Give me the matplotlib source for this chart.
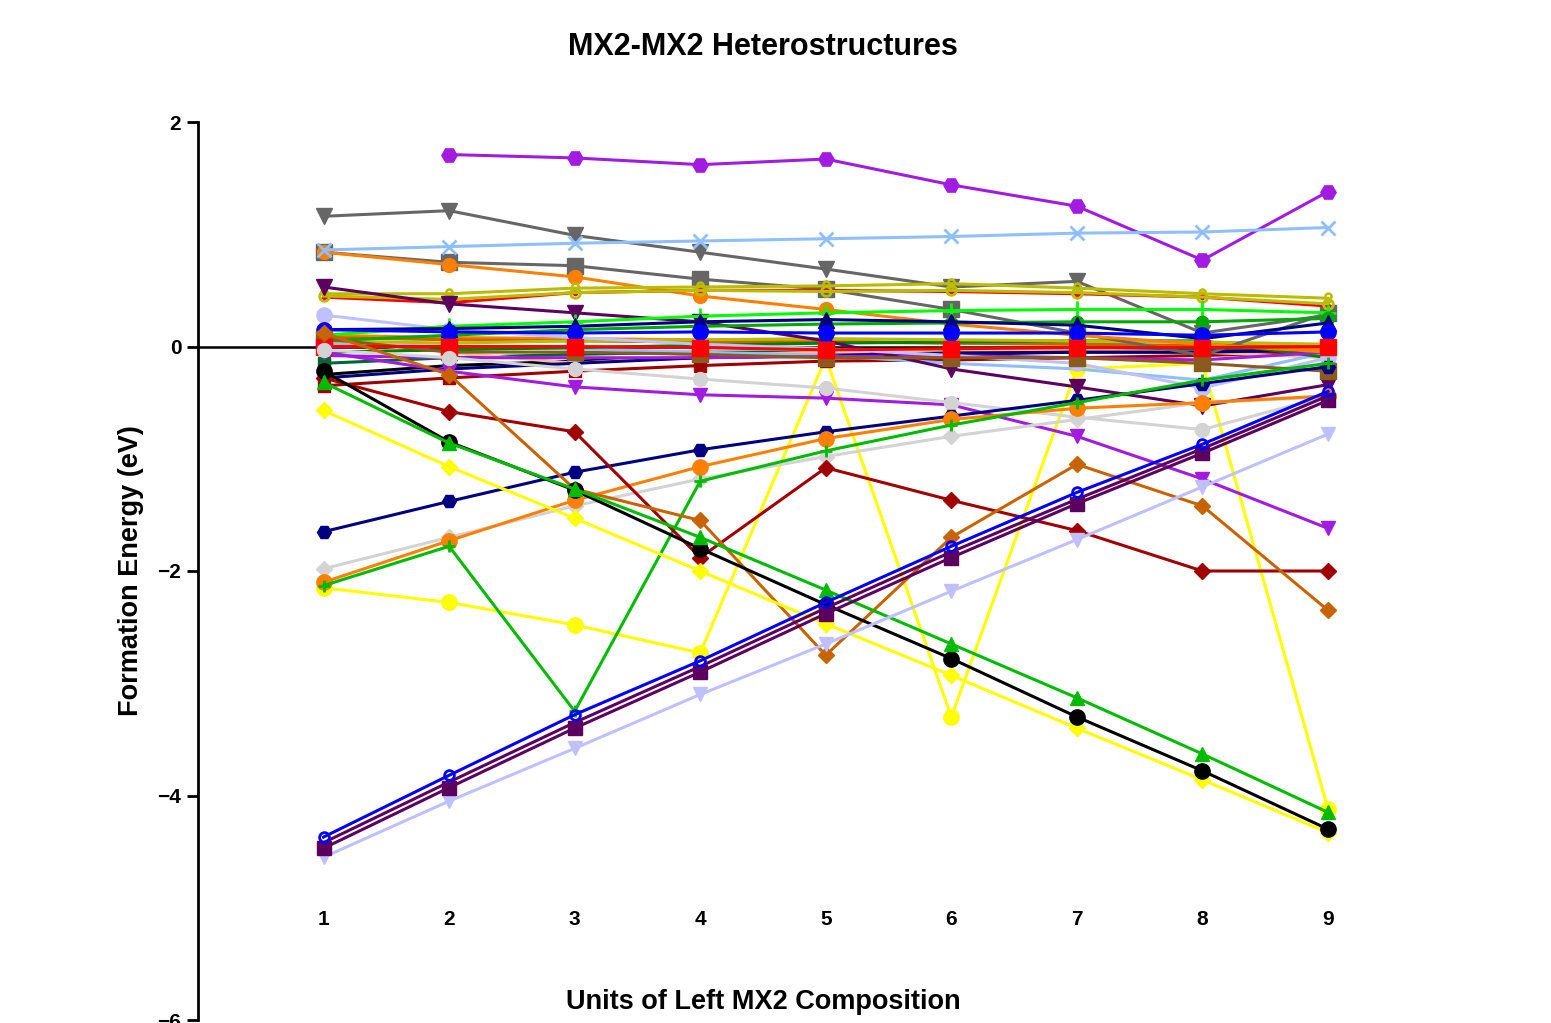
"""MX2-MX2 heterostructure formation energies vs. left-layer composition."""
import numpy as np
import matplotlib
matplotlib.use("Agg")
import matplotlib.pyplot as plt

plt.rcParams["font.family"] = ["Liberation Sans", "DejaVu Sans"]
plt.rcParams["font.weight"] = "bold"

nan = np.nan
units = [1, 2, 3, 4, 5, 6, 7, 8, 9]

# --- near-zero bundle (drawn first, underneath) ---
black_small = [-0.25, -0.17, -0.13, -0.10, -0.08, -0.07, -0.05, -0.05, -0.03]
darkred_sq = [-0.35, -0.28, -0.22, -0.17, -0.13, -0.12, -0.10, -0.08, -0.05]
darkgreen_sq = [-0.15, -0.10, -0.07, -0.05, -0.05, -0.04, -0.03, -0.03, -0.02]
tan_star = [0.05, -0.05, -0.15, -0.08, -0.05, -0.03, -0.03, -0.05, -0.10]
navy_flat = [-0.28, -0.20, -0.15, -0.10, -0.08, -0.06, -0.05, -0.05, -0.03]
orange_flat = [0.10, 0.08, 0.07, 0.06, 0.05, 0.03, 0.02, 0.00, -0.02]
rust_flat = [0.08, 0.06, 0.05, 0.04, 0.04, 0.03, 0.02, 0.01, 0.00]
lightblue_flat = [0.03, 0.00, -0.02, -0.05, -0.08, -0.15, -0.20, -0.30, -0.05]
green_flat = [-0.05, -0.03, -0.01, 0.01, 0.03, 0.04, 0.05, 0.05, -0.10]
purple_flat = [-0.08, -0.10, -0.10, -0.10, -0.09, -0.08, -0.10, -0.12, -0.05]
olive_low = [0.05, 0.03, 0.05, 0.06, 0.07, 0.06, 0.05, 0.04, 0.02]
yellow_circ = [-2.15, -2.28, -2.48, -2.73, -0.10, -3.30, -0.20, -0.15, -4.12]

# --- upper series ---
purple_hex = [nan, 1.71, 1.68, 1.62, 1.67, 1.44, 1.25, 0.77, 1.38]
grey_tri = [1.16, 1.21, 0.99, 0.84, 0.69, 0.53, 0.58, 0.12, 0.28]
blue_x = [0.86, 0.89, 0.92, 0.94, 0.96, 0.98, 1.01, 1.02, 1.06]
grey_sq = [0.84, 0.75, 0.72, 0.60, 0.51, 0.33, 0.12, -0.08, 0.30]
orange_top = [0.84, 0.73, 0.62, 0.45, 0.33, 0.20, 0.10, 0.02, -0.05]
olive_flag = [0.47, 0.47, 0.52, 0.53, 0.54, 0.56, 0.52, 0.47, 0.43]
olive_ring = [0.45, 0.42, 0.48, 0.50, 0.49, 0.50, 0.48, 0.44, 0.38]
red_top = [0.44, 0.39, 0.48, 0.50, 0.50, 0.49, 0.47, 0.44, 0.36]
plum_tri = [0.53, 0.38, 0.30, 0.22, 0.05, -0.20, -0.36, -0.53, -0.34]
lav_circ = [0.28, 0.15, 0.08, 0.02, -0.02, -0.08, -0.15, -0.37, -0.10]
green_plus_top = [0.10, 0.18, 0.22, 0.27, 0.30, 0.32, 0.33, 0.33, 0.30]
green_circ = [0.05, 0.10, 0.15, 0.18, 0.20, 0.21, 0.22, 0.22, 0.25]
navy_tri = [0.15, 0.16, 0.18, 0.22, 0.24, 0.22, 0.19, 0.07, 0.21]
blue_circ = [0.15, 0.13, 0.12, 0.13, 0.12, 0.12, 0.12, 0.10, 0.13]
brown_sq = [0.07, -0.05, -0.05, -0.07, -0.10, -0.10, -0.10, -0.15, -0.22]
red_sq = [0.00, 0.00, 0.00, -0.01, -0.03, -0.02, -0.01, -0.01, 0.00]

# --- lower series ---
purple_tri = [-0.05, -0.22, -0.36, -0.43, -0.46, -0.52, -0.80, -1.18, -1.62]
grey_circ = [-0.03, -0.10, -0.20, -0.29, -0.37, -0.50, -0.63, -0.74, -0.44]
grey_dia = [-1.98, -1.70, -1.42, -1.18, -0.98, -0.80, -0.65, -0.50, -0.45]
navy_hex = [-1.65, -1.38, -1.12, -0.92, -0.76, -0.62, -0.48, -0.33, -0.18]
orange_circ = [-2.10, -1.73, -1.37, -1.07, -0.82, -0.65, -0.55, -0.50, -0.44]
green_plus = [-2.13, -1.78, -3.25, -1.20, -0.93, -0.70, -0.50, -0.30, -0.15]
darkred_dia = [-0.28, -0.58, -0.76, -1.88, -1.08, -1.37, -1.64, -2.00, -2.00]
rust_dia = [0.12, -0.25, -1.27, -1.55, -2.75, -1.70, -1.05, -1.42, -2.35]
yellow_dia = [-0.57, -1.07, -1.53, -2.00, -2.47, -2.93, -3.40, -3.86, -4.33]
black_circ = [-0.22, -0.85, -1.28, -1.80, -2.30, -2.78, -3.30, -3.78, -4.30]
green_tri = [-0.32, -0.86, -1.27, -1.70, -2.17, -2.65, -3.13, -3.63, -4.15]
lav_tri = [-4.55, -4.05, -3.58, -3.10, -2.65, -2.18, -1.72, -1.25, -0.78]
plum_line = [-4.42, -3.88, -3.35, -2.85, -2.33, -1.83, -1.36, -0.91, -0.44]
plum_sq = [-4.47, -3.93, -3.40, -2.90, -2.38, -1.88, -1.40, -0.95, -0.48]
blue_ring = [-4.37, -3.82, -3.28, -2.80, -2.28, -1.78, -1.30, -0.87, -0.40]

# (values, color, marker, markersize, filled)
series = [
    (yellow_circ, "#FFFF00", "o", 11, True),
    (black_small, "#000000", "o", 5, True),
    (darkred_sq, "#A00000", "s", 9, True),
    (darkgreen_sq, "#006633", "s", 9, True),
    (tan_star, "#F2C190", "*", 11, True),
    (navy_flat, "#000080", "", 0, True),
    (orange_flat, "#FF8000", "", 0, True),
    (rust_flat, "#C86400", "", 0, True),
    (lightblue_flat, "#8FBFFF", "", 0, True),
    (green_flat, "#008000", "", 0, True),
    (purple_flat, "#A21BE0", "", 0, True),
    (olive_low, "#BBBB00", "", 0, True),
    (purple_hex, "#A21BE0", "H", 11, True),
    (grey_tri, "#666666", "v", 11, True),
    (grey_sq, "#666666", "s", 11, True),
    (orange_top, "#FF8000", "o", 10, True),
    (blue_x, "#8FBFFF", "x", 10, True),
    (olive_flag, "#BBBB00", "$\u2640$", 8, True),
    (red_top, "#FF0000", ".", 6, True),
    (olive_ring, "#BBBB00", "o", 7, False),
    (plum_tri, "#5C0060", "v", 11, True),
    (lav_circ, "#C0C0FF", "o", 11, True),
    (green_plus_top, "#00FF00", "+", 11, True),
    (green_circ, "#00AA00", "o", 9, True),
    (navy_tri, "#000080", "^", 11, True),
    (blue_circ, "#0000FF", "o", 11, True),
    (brown_sq, "#8B5A1E", "s", 11, True),
    (red_sq, "#FF0000", "s", 11, True),
    (purple_tri, "#A21BE0", "v", 10, True),
    (grey_circ, "#D3D3D3", "o", 10, True),
    (grey_dia, "#D3D3D3", "D", 8, True),
    (navy_hex, "#000080", "H", 10, True),
    (orange_circ, "#FF8000", "o", 11, True),
    (green_plus, "#00BB00", "+", 9, True),
    (darkred_dia, "#A00000", "D", 8, True),
    (rust_dia, "#C86400", "D", 8, True),
    (yellow_dia, "#FFFF00", "D", 8, True),
    (black_circ, "#000000", "o", 11, True),
    (green_tri, "#00BB00", "^", 10, True),
    (lav_tri, "#C0C0FF", "v", 10, True),
    (plum_line, "#5C0060", "", 0, True),
    (plum_sq, "#5C0060", "s", 10, True),
    (blue_ring, "#0000FF", "o", 7, False),
]

fig = plt.figure(figsize=(15.51, 10.23), dpi=100)
ax = fig.add_axes([198 / 1551, 3 / 1023, (1328 - 198) / 1551, (1020 - 122) / 1023])

ax.axhline(0, color="black", lw=1.8, zorder=0)

for vals, color, marker, ms, filled in series:
    ax.plot(units, vals, color=color, lw=2.2, marker=marker or None, markersize=ms,
            markerfacecolor=color if filled else "none", markeredgecolor=color,
            markeredgewidth=2 if marker in ("x", "+") or not filled else 1,
            clip_on=False)

ax.set_xlim(0, 9)
ax.set_ylim(-6, 2)
ax.set_yticks([-6, -4, -2, 0, 2])
ax.set_xticks(units)
ax.tick_params(axis="y", length=8, width=2, labelsize=15, pad=4)
ax.tick_params(axis="x", length=0, labelsize=15, pad=8)
for s in ("top", "right", "bottom"):
    ax.spines[s].set_visible(False)
ax.spines["left"].set_linewidth(2)
ax.spines["bottom"].set_position(("data", -4.92))

ax.set_title("MX2-MX2 Heterostructures", fontsize=22, fontweight="bold", pad=48)
ax.set_ylabel("Formation Energy (eV)", fontsize=19.5, fontweight="bold", labelpad=10)
ax.set_xlabel("Units of Left MX2 Composition", fontsize=19.5, fontweight="bold", labelpad=43)

fig.savefig("out.png", dpi=100, facecolor="white")
